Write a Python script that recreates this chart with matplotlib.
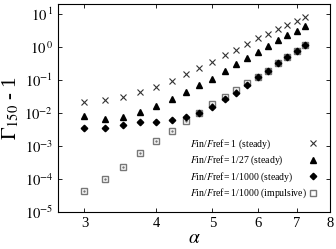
import matplotlib
matplotlib.use('Agg')
import matplotlib.pyplot as plt
from matplotlib.ticker import FixedLocator, FixedFormatter, NullLocator

plt.rcParams['font.family'] = ['Liberation Serif', 'DejaVu Serif']
plt.rcParams['mathtext.fontset'] = 'stix'

# alpha values
alpha = [3.0, 3.25, 3.5, 3.75, 4.0, 4.25, 4.5, 4.75, 5.0,
         5.25, 5.5, 5.75, 6.0, 6.25, 6.5, 6.75, 7.0, 7.25]

# Gamma_150 - 1 for each run
g_steady_1 = [0.021, 0.025, 0.030, 0.043, 0.063, 0.095, 0.15, 0.23, 0.36,
              0.55, 0.83, 1.26, 1.8, 2.5, 3.4, 4.7, 6.2, 8.0]
g_steady_27 = [0.0079, 0.0067, 0.0076, 0.0107, 0.0165, 0.026, 0.044, 0.069, 0.11,
               0.19, 0.30, 0.47, 0.71, 1.07, 1.6, 2.3, 3.1, 4.2]
g_steady_1000 = [0.0034, 0.0035, 0.0044, 0.0052, 0.0053, 0.0060, 0.0074, 0.010, 0.015,
                 0.026, 0.040, 0.071, 0.12, 0.19, 0.32, 0.48, 0.74, 1.12]
g_impulsive_1000 = [4.2e-5, 1.0e-4, 2.3e-4, 5.9e-4, 1.4e-3, 2.9e-3, 5.5e-3, 0.010, 0.018,
                    0.031, 0.050, 0.081, 0.12, 0.19, 0.32, 0.48, 0.74, 1.12]

labels = [r'$F$in/$F$ref= 1 (steady)',
          r'$F$in/$F$ref= 1/27 (steady)',
          r'$F$in/$F$ref= 1/1000 (steady)',
          r'$F$in/$F$ref= 1/1000 (impulsive)']

xticks = [3, 4, 5, 6, 7, 8]
yticks = [1e-5, 1e-4, 1e-3, 1e-2, 1e-1, 1e0, 1e1]
ytick_labels = [r'$10^{-5}$', r'$10^{-4}$', r'$10^{-3}$', r'$10^{-2}$',
                r'$10^{-1}$', r'$10^{\,0}$', r'$10^{\,1}$']

fig = plt.figure(figsize=(3.36, 2.49), dpi=100)
ax = fig.add_axes([0.173, 0.149, 0.809, 0.835])

ax.plot(alpha, g_impulsive_1000, 's', ms=5, mfc='white', mec='#777777', mew=1.0,
        label=labels[3], zorder=2)
ax.plot(alpha, g_impulsive_1000, '.', ms=1.5, color='#777777', zorder=2)
ax.plot(alpha, g_steady_1000, 'D', ms=3.3, color='black', label=labels[2], zorder=3)
ax.plot(alpha, g_steady_27, '^', ms=4, color='black', label=labels[1], zorder=3)
ax.plot(alpha, g_steady_1, 'x', ms=5, color='#333333', mew=0.8, label=labels[0], zorder=3)

ax.set_xscale('log')
ax.set_yscale('log')
ax.set_xlim(2.7, 8)
ax.set_ylim(1e-5, 20)

ax.xaxis.set_major_locator(FixedLocator(xticks))
ax.xaxis.set_major_formatter(FixedFormatter([str(t) for t in xticks]))
ax.xaxis.set_minor_locator(NullLocator())
ax.yaxis.set_major_locator(FixedLocator(yticks))
ax.yaxis.set_major_formatter(FixedFormatter(ytick_labels))
ax.yaxis.set_minor_locator(NullLocator())

ax.tick_params(direction='in', top=True, right=True, length=3, width=0.6, labelsize=10.5)
for s in ax.spines.values():
    s.set_linewidth(0.8)

ax.set_xlabel(r'$\alpha$', fontsize=14, labelpad=0)
ax.set_ylabel(r'$\Gamma_{150}$ - 1', fontsize=15, labelpad=2)

h, l = ax.get_legend_handles_labels()
leg = ax.legend(h[::-1], l[::-1], loc='lower right', frameon=False, markerfirst=False,
                fontsize=7, handlelength=1.0, handletextpad=1.0, labelspacing=0.3,
                borderaxespad=0.8)
# texts left-aligned, markers in one column on the right
for col in leg._legend_handle_box.get_children():
    col.align = 'left'
    col.width = 128
    for row in col.get_children():
        row.mode = 'expand'

fig.savefig('out.png', dpi=100)
